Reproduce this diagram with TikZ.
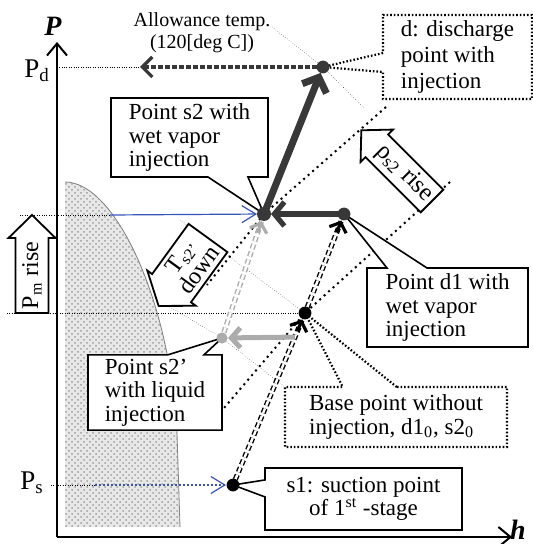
\documentclass[tikz,border=0pt]{standalone}
\usepackage{fontspec}
\setmainfont{Liberation Serif}
\usepackage{tikz}
\usetikzlibrary{patterns}
\usetikzlibrary{shapes,calc}
\usetikzlibrary{arrows.meta}
\colorlet{ptdark}{black!78}
\colorlet{ptgray}{gray!65}
\definecolor{injblue}{RGB}{55,85,185}
\tikzstyle{guide} = [densely dotted, very thin]
\tikzstyle{isoline} = [dotted, line width=1pt]
\tikzstyle{axis} = [line width=1pt,-{Straight Barb[length=6pt,width=10pt]}]
\newcommand{\boxfont}{\fontsize{11.5}{11.8}\selectfont}

\begin{document}
\begin{tikzpicture}[x=0.5pt, y=-0.5pt,
	callbox/.style={rectangle callout, draw, fill=white, line width=0.8pt, align=left, font=\boxfont, inner sep=2pt},
	dotbox/.style={callbox, densely dotted, line width=1.1pt},
	bigarrow/.style={draw, fill=white, line width=0.9pt, line join=miter},
	dblline/.style={double, double distance=1.2pt, line width=0.7pt, dash pattern=on 2.5pt off 1.5pt, shorten <=3pt, shorten >=4pt},
	barb/.style={line width=1.6pt, -{Straight Barb[length=4pt,width=9pt]}}]
	
	\useasboundingbox (0,0) rectangle (533,544);
	
	% STATE POINTS
	\coordinate (s1) at (233,485);
	\coordinate (base) at (305,313);
	\coordinate (d1) at (344,214);
	\coordinate (s2) at (264,214);
	\coordinate (d) at (323,67);
	\coordinate (s2p) at (222,338);
	\coordinate (dm) at (110,215);
	\coordinate (psblue) at (95,485);
	\coordinate (pdend) at (140,67);
	\coordinate (origin) at (57,537);
	\coordinate (ytop) at (57,42);
	\coordinate (xend) at (512,537);
	\coordinate (pmtail) at (32,313);
	\coordinate (ttail) at (208,238);
	\coordinate (rhotail) at (432,201);
	
	% SATURATION DOME
	\path[preaction={fill=gray!18}, pattern=crosshatch dots, pattern color=gray!75]
		(65,527) -- (65,182) .. controls (115,182) and (170,300) .. (177,433) -- (180,527) -- cycle;
	\draw[gray, thin] (65,182) .. controls (115,182) and (170,300) .. (177,433) -- (180,527);
	
	% LABELS ON P AXIS
	\node[font=\fontsize{13.5}{14}\selectfont] (pdlab) at (37,71) {P\textsubscript{d}};
	\node[font=\fontsize{13.5}{14}\selectfont] (pslab) at (32,483) {P\textsubscript{s}};
	\node[font=\fontsize{10}{10.8}\selectfont, align=center] (allow) at (202,33) {Allowance temp.\\(120[deg C])};
	
	% GUIDES
	\draw[guide] (pdlab.east |- pdend) -- (pdend);
	\draw[guide] (pslab.east |- s1) -- (psblue);
	\draw[guide] (20,215) -- (dm);
	\draw[guide] (7,313) -- (base);
	\draw[guide] (272,27) -- (d) -- (364,108);
	\draw[guide] (180,220) -- (base) -- (345,345);
	\draw[guide] (153,297) -- (s2p) -- (285,387);
	\draw[isoline] (450,182) -- (base) -- (224,408);
	
	% INJECTION LINES
	\draw[injblue, line width=0.6pt, -{Straight Barb[length=7pt,width=8.5pt]}, shorten >=3.5pt] (dm) -- (s2);
	\draw[injblue, line width=1pt, dash pattern=on 1.2pt off 0.8pt, -{Straight Barb[length=7pt,width=8.5pt,line width=0.6pt]}, shorten >=3.5pt] (psblue) -- (s1);
	
	% WIDE ARROWS
	\draw[bigarrow, shift={(pmtail)}, rotate=90] (0pt,-8.25pt) -- (37.5pt,-8.25pt) -- (37.5pt,-11.75pt) -- (49pt,0pt) -- (37.5pt,11.75pt) -- (37.5pt,8.25pt) -- (0pt,8.25pt) -- cycle;
	\node[rotate=90, font=\fontsize{12}{13}\selectfont] (pmrise) at ($(pmtail)+(90:18.75pt)$) {P\textsubscript{m} rise};
	\draw[bigarrow, shift={(ttail)}, rotate=234] (0pt,-12pt) -- (31pt,-12pt) -- (31pt,-15pt) -- (42pt,0pt) -- (31pt,15pt) -- (31pt,12pt) -- (0pt,12pt) -- cycle;
	\node[rotate=54, align=center, inner sep=0pt, font=\fontsize{12}{11.5}\selectfont] (tdown) at ($(ttail)+(234:15.5pt)$) {T\textsubscript{s2’}\\down};
	\draw[bigarrow, shift={(rhotail)}, rotate=135] (0pt,-8pt) -- (39pt,-8pt) -- (39pt,-11.5pt) -- (50pt,0pt) -- (39pt,11.5pt) -- (39pt,8pt) -- (0pt,8pt) -- cycle;
	\node[rotate=-45, inner sep=0pt, font=\fontsize{12.5}{13}\selectfont] (rhorise) at ($(rhotail)+(135:19.5pt)$) {ρ\textsubscript{s2} rise};
	\draw[isoline] (386,107) -- (s2) -- (207,285);
	
	% CALLOUTS
	\node[callbox, minimum width=78.5pt, minimum height=39.5pt, callout pointer width=20pt, callout absolute pointer={(s2)}] (s2box) at (189.5,137.5) {Point s2 with\\wet vapor\\injection};
	\node[dotbox, minimum width=74.5pt, minimum height=42pt, callout pointer width=9.5pt, callout absolute pointer={(d)}, font=\fontsize{11.5}{13}\selectfont] (dbox) at (457.5,57) {d: discharge\\point with\\injection};
	\node[callbox, minimum width=80.5pt, minimum height=39.5pt, callout pointer width=20pt, callout absolute pointer={(d1)}] (d1box) at (447.5,307.5) {Point d1 with\\wet vapor\\injection};
	\node[callbox, minimum width=67pt, minimum height=37.5pt, callout pointer width=18pt, callout absolute pointer={(s2p)}] (s2pbox) at (155,392.5) {Point s2’\\with liquid\\injection};
	\node[dotbox, minimum width=111pt, minimum height=30pt, callout pointer width=27pt, callout absolute pointer={(base)}] (basebox) at (396,417) {Base point without\\injection, d1\textsubscript{0}, s2\textsubscript{0}};
	\node[callbox, align=center, minimum width=98.5pt, minimum height=31pt, callout pointer width=8.5pt, callout absolute pointer={(s1)}] (s1box) at (363.5,499) {s1: suction point\\of 1\textsuperscript{st} -stage};
	
	% PROCESS ARROWS
	\draw[dblline] (s1) -- (base);
	\draw[barb] ($(base)!10pt!(s1)$) -- ($(base)!3.5pt!(s1)$);
	\draw[dblline] (base) -- (d1);
	\draw[barb] ($(d1)!10pt!(base)$) -- ($(d1)!3.5pt!(base)$);
	\draw[dblline, ptgray] (s2p) -- (s2);
	\draw[barb, ptgray] ($(s2)!10pt!(s2p)$) -- ($(s2)!3.8pt!(s2p)$);
	\draw[ptgray, line width=2.5pt, -{Straight Barb[length=4.5pt,width=10pt]}, shorten >=3pt] ($(s1)!0.86!(base)$) -- (s2p);
	\draw[ptdark, line width=2.6pt, -{Straight Barb[length=5pt,width=12pt]}, shorten >=3.5pt] (d1) -- (s2);
	\draw[ptdark, line width=3.5pt, -{Straight Barb[length=6pt,width=13pt]}, shorten >=3.2pt] (s2) -- (d);
	\draw[ptdark, line width=1.6pt, dash pattern=on 2.5pt off 1pt, -{Straight Barb[length=5pt,width=10pt]}, shorten <=3pt] (d) -- (pdend);
	
	% DOTS
	\foreach \p/\col/\r in {s1/black/3.2pt, base/black/3.2pt, d1/ptdark/3.2pt, s2/ptdark/3.5pt, d/ptdark/3.2pt, s2p/ptgray/2.8pt}
		\fill[\col] (\p) circle (\r);
	
	% AXES
	\draw[axis] (origin) -- (ytop);
	\draw[axis] (origin) -- (xend);
	\node[inner sep=0pt, font=\fontsize{14}{14}\selectfont] (plab) at (53,26) {\textbf{\textit{P}}};
	\node[inner sep=0pt, font=\fontsize{14}{14}\selectfont] (hlab) at (518,530) {\textbf{\textit{h}}};
	
\end{tikzpicture}
\end{document}
